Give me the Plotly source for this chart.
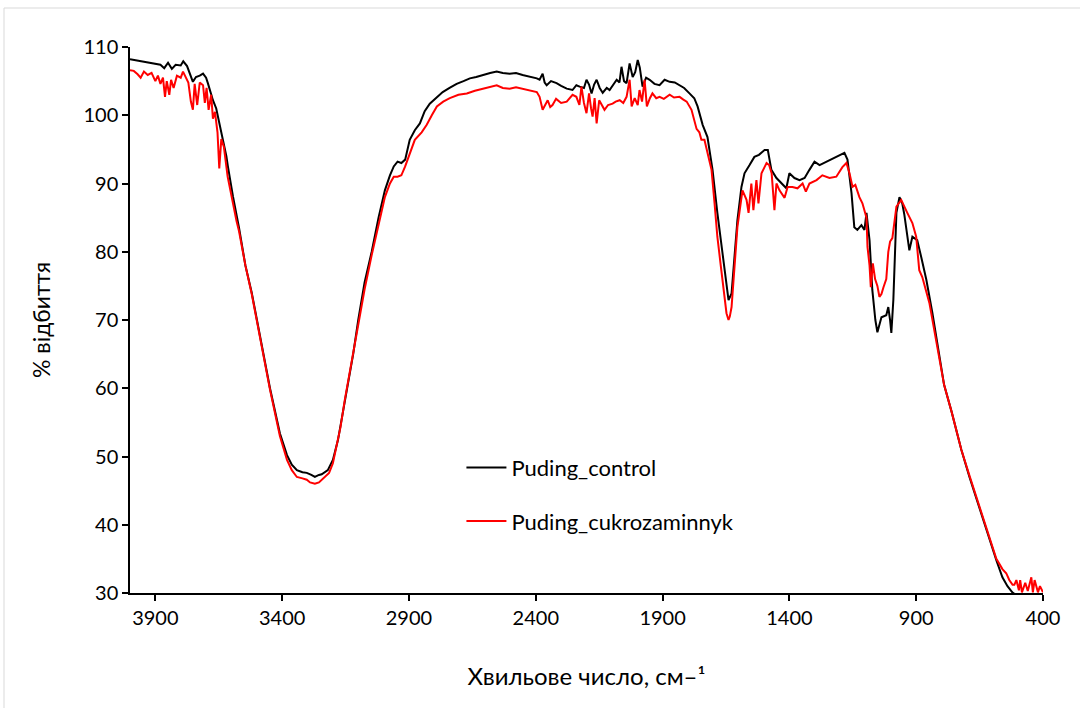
import plotly.graph_objects as go

# Puding_control (wavenumber, %T)
wn_control = [4000, 3970, 3940, 3910, 3880, 3865, 3850, 3835, 3820, 3800, 3790, 3775, 3760, 3752,
              3740, 3725, 3712, 3700, 3693, 3673, 3660, 3653, 3645, 3634, 3620, 3614, 3594, 3570,
              3545, 3520, 3500, 3475, 3448, 3409, 3381, 3362, 3342, 3320, 3303, 3285, 3271, 3255,
              3244, 3220, 3200, 3180, 3161, 3145, 3120, 3100, 3075, 3047, 3020, 2995, 2975, 2960,
              2945, 2930, 2915, 2897, 2877, 2857, 2838, 2818, 2790, 2767, 2740, 2712, 2685, 2660,
              2635, 2609, 2580, 2554, 2530, 2503, 2478, 2452, 2425, 2396, 2385, 2373, 2365, 2357,
              2340, 2318, 2300, 2278, 2255, 2240, 2227, 2210, 2200, 2190, 2180, 2170, 2160, 2148,
              2136, 2120, 2109, 2095, 2081, 2070, 2062, 2052, 2042, 2030, 2018, 2008, 1998, 1990,
              1979, 1965, 1951, 1932, 1912, 1892, 1872, 1852, 1833, 1815, 1794, 1775, 1762, 1742,
              1723, 1703, 1684, 1664, 1648, 1640, 1628, 1617, 1605, 1589, 1577, 1557, 1538, 1520,
              1510, 1498, 1485, 1471, 1451, 1431, 1412, 1400, 1380, 1360, 1340, 1321, 1301, 1281,
              1254, 1230, 1203, 1183, 1171, 1155, 1144, 1132, 1116, 1104, 1096, 1084, 1073, 1061,
              1053, 1045, 1037, 1018, 1010, 1003, 998, 990, 986, 978, 966, 955, 947, 939, 927, 915,
              896, 880, 860, 836, 809, 790, 760, 722, 690, 660, 631, 605, 584, 560, 540, 521, 510,
              480, 440, 400]
t_control = [108.2, 108.0, 107.9, 107.6, 107.4, 106.9, 107.7, 106.8, 107.4, 107.3, 107.9, 107.2, 105.5, 104.9,
             105.6, 105.8, 106.1, 105.5, 104.7, 102.2, 101.0, 99.8, 98.5, 96.9, 94.0, 92.5, 88.1, 83.5,
             78.0, 74.0, 70.0, 65.5, 60.0, 53.4, 50.2, 48.8, 48.0, 47.7, 47.6, 47.3, 47.0, 47.3,
             47.4, 48.0, 49.5, 52.4, 56.4, 59.5, 65.0, 70.0, 75.5, 80.0, 85.0, 89.0, 91.2, 92.5,
             93.2, 93.0, 93.5, 96.4, 97.8, 98.8, 100.6, 101.7, 102.6, 103.4, 104.0, 104.6, 105.0, 105.4,
             105.6, 105.9, 106.2, 106.4, 106.2, 106.1, 106.2, 105.9, 105.7, 105.4, 105.2, 106.1, 104.8, 104.4,
             105.0, 104.7, 104.3, 103.9, 103.7, 104.4, 104.2, 104.0, 105.2, 104.5, 103.2, 104.5, 105.2, 104.0,
             103.3, 104.0, 103.7, 104.5, 105.2, 104.8, 107.1, 105.0, 104.7, 107.6, 105.6, 106.3, 108.1, 107.0,
             104.2, 105.5, 105.2, 104.6, 104.4, 105.2, 104.9, 104.8, 104.4, 104.0, 103.2, 102.5, 101.3, 98.6,
             96.8, 92.0, 85.7, 79.8, 75.9, 72.9, 73.9, 78.8, 84.6, 89.5, 91.5, 92.7, 93.9, 94.2,
             94.5, 94.9, 94.9, 92.0, 90.8, 90.0, 89.3, 91.5, 90.8, 90.5, 90.8, 92.0, 93.2, 92.7,
             93.2, 93.7, 94.2, 94.5, 93.5, 88.6, 83.6, 83.2, 83.9, 83.2, 85.7, 81.7, 74.4, 70.0,
             68.2, 69.5, 70.4, 70.7, 71.9, 70.0, 68.1, 73.0, 78.3, 85.7, 88.0, 87.1, 85.5, 83.2, 80.2, 82.2,
             81.7, 79.2, 75.9, 71.0, 64.6, 60.5, 56.5, 51.0, 47.0, 43.5, 40.0, 37.0, 34.8, 32.3, 31.0, 30.1, 29.8,
             29.5, 29.5, 29.5]

# Puding_cukrozaminnyk (wavenumber, %T)
wn_sugar = [4000, 3985, 3970, 3958, 3945, 3930, 3915, 3900, 3890, 3880, 3870, 3862, 3855, 3845,
            3838, 3828, 3815, 3800, 3791, 3780, 3770, 3760, 3752, 3745, 3735, 3725, 3712, 3705,
            3698, 3690, 3680, 3673, 3665, 3655, 3648, 3640, 3630, 3615, 3600, 3590, 3580, 3570,
            3545, 3520, 3500, 3475, 3448, 3409, 3381, 3362, 3342, 3320, 3303, 3290, 3271, 3255,
            3244, 3230, 3215, 3200, 3185, 3170, 3153, 3130, 3100, 3075, 3047, 3020, 2995, 2975,
            2960, 2945, 2930, 2915, 2897, 2877, 2850, 2830, 2810, 2790, 2765, 2739, 2705, 2672,
            2640, 2609, 2580, 2554, 2530, 2503, 2478, 2452, 2425, 2396, 2385, 2373, 2363, 2353,
            2343, 2334, 2320, 2300, 2278, 2265, 2255, 2240, 2228, 2220, 2210, 2200, 2190, 2182,
            2176, 2168, 2160, 2150, 2140, 2129, 2115, 2097, 2085, 2069, 2055, 2042, 2030, 2022,
            2010, 1998, 1991, 1981, 1971, 1962, 1950, 1940, 1925, 1912, 1895, 1872, 1855, 1833,
            1818, 1805, 1786, 1774, 1766, 1755, 1747, 1735, 1720, 1707, 1695, 1684, 1670, 1656,
            1648, 1640, 1635, 1628, 1617, 1605, 1585, 1569, 1561, 1550, 1542, 1530, 1522, 1510,
            1498, 1490, 1480, 1470, 1459, 1451, 1439, 1419, 1407, 1388, 1368, 1348, 1335, 1321,
            1293, 1270, 1242, 1215, 1191, 1175, 1163, 1151, 1140, 1124, 1112, 1104, 1096, 1092,
            1084, 1079, 1071, 1062, 1053, 1045, 1037, 1029, 1018, 1010, 1003, 994, 978, 959,
            947, 935, 915, 900, 888, 876, 848, 809, 790, 760, 722, 690, 660, 631, 605, 584,
            560, 545, 533, 520, 513, 505, 495, 490, 483, 470, 460, 446, 440, 433, 420, 412, 400]
t_sugar = [106.6, 106.5, 106.0, 105.5, 106.4, 105.9, 106.2, 105.0, 105.8, 104.6, 105.5, 102.7, 105.0, 103.0,
           105.2, 104.0, 105.8, 105.5, 106.4, 105.6, 104.8, 102.0, 100.8, 104.6, 101.5, 104.8, 104.4, 101.8,
           104.0, 100.8, 103.0, 99.5, 100.5, 97.5, 92.2, 96.5, 95.4, 91.0, 88.0, 86.5, 84.5, 83.0,
           78.0, 73.8, 69.8, 65.2, 59.8, 53.0, 49.5, 48.0, 47.0, 46.8, 46.6, 46.2, 46.0, 46.2,
           46.6, 47.0, 47.6, 49.0, 51.5, 54.3, 58.3, 63.0, 69.0, 74.5, 79.5, 84.0, 88.0, 90.0,
           91.0, 91.0, 91.2, 92.5, 94.5, 96.4, 97.5, 98.6, 100.0, 101.3, 102.0, 102.5, 103.0, 103.2,
           103.6, 103.9, 104.2, 104.4, 104.0, 103.9, 104.1, 103.9, 103.7, 103.4, 102.7, 100.8, 101.5, 102.2,
           101.2, 101.5, 102.4, 101.8, 102.0, 102.5, 103.0, 102.7, 101.5, 104.2, 101.8, 100.3, 103.2, 101.0,
           99.8, 102.5, 98.8, 102.2, 101.5, 100.8, 101.5, 101.7, 102.0, 102.2, 101.8, 102.7, 105.2, 101.3,
           102.5, 101.5, 103.7, 102.0, 105.2, 101.3, 102.5, 103.2, 102.5, 102.7, 102.4, 103.0, 102.6, 102.7,
           102.3, 102.0, 100.8, 98.9, 98.0, 97.5, 96.4, 96.4, 94.0, 92.0, 87.1, 82.2, 77.8, 72.9,
           71.0, 70.0, 70.5, 71.9, 78.3, 83.6, 89.0, 87.6, 85.7, 90.0, 86.1, 90.5, 87.1, 91.5,
           92.4, 93.0, 92.7, 91.5, 86.1, 90.0, 89.0, 87.9, 89.5, 89.5, 89.3, 90.0, 88.8, 90.0,
           90.5, 91.2, 90.8, 91.0, 92.4, 93.0, 91.5, 89.5, 89.8, 88.0, 87.1, 86.1, 85.0, 80.7,
           78.0, 74.8, 78.3, 76.0, 75.0, 73.4, 73.8, 74.8, 76.0, 80.0, 81.5, 82.0, 86.6, 87.6,
           86.6, 85.7, 84.2, 82.2, 77.3, 76.3, 72.5, 64.6, 60.5, 56.5, 51.0, 47.2, 43.8, 40.3, 37.3, 35.0,
           33.5, 32.9, 31.9, 31.2, 31.2, 31.9, 30.4, 31.9, 30.1, 31.5, 30.3, 32.3, 30.1, 31.9, 30.1, 31.0, 30.1]

x_ticks = [3900, 3400, 2900, 2400, 1900, 1400, 900, 400]
y_ticks = [30, 40, 50, 60, 70, 80, 90, 100, 110]

FONT = "Lato"

fig = go.Figure()
fig.add_trace(go.Scatter(x=wn_control, y=t_control, mode="lines", name="Puding_control",
                         line=dict(color="#000000", width=2), legendgroup="a"))
fig.add_trace(go.Scatter(x=wn_sugar, y=t_sugar, mode="lines", name="Puding_cukrozaminnyk",
                         line=dict(color="#ff0000", width=2), legendgroup="b"))

fig.update_layout(
    width=1080, height=708,
    margin=dict(l=130, r=37, t=47, b=115),
    paper_bgcolor="white", plot_bgcolor="white",
    font=dict(family=FONT, size=20, color="#000000"),
    showlegend=True,
    legend=dict(x=0.363, y=0.268, xanchor="left", yanchor="top",
                bgcolor="rgba(0,0,0,0)", font=dict(size=22, family=FONT),
                tracegroupgap=22, itemwidth=40),
    xaxis=dict(range=[4000, 400], tickmode="array", tickvals=x_ticks,
               ticks="outside", ticklen=6, tickwidth=1.5, tickcolor="black",
               showline=True, linecolor="black", linewidth=1.5, showgrid=False, zeroline=False,
               title=dict(text="Хвильове число, см–¹", standoff=40, font=dict(size=24)),
               tickfont=dict(size=20)),
    yaxis=dict(range=[30, 110], tickmode="array", tickvals=y_ticks,
               ticks="outside", ticklen=6, tickwidth=1.5, tickcolor="black",
               showline=True, linecolor="black", linewidth=1.5, showgrid=False, zeroline=False,
               title=dict(text="% відбиття", standoff=26, font=dict(size=23)),
               tickfont=dict(size=20)),
    shapes=[dict(type="rect", xref="paper", yref="paper",
                 x0=-0.138, x1=1.2, y0=-0.4, y1=1.0714,
                 line=dict(color="#d9d9d9", width=1), fillcolor="rgba(0,0,0,0)", layer="below")],
)

fig.write_html("out.html")
